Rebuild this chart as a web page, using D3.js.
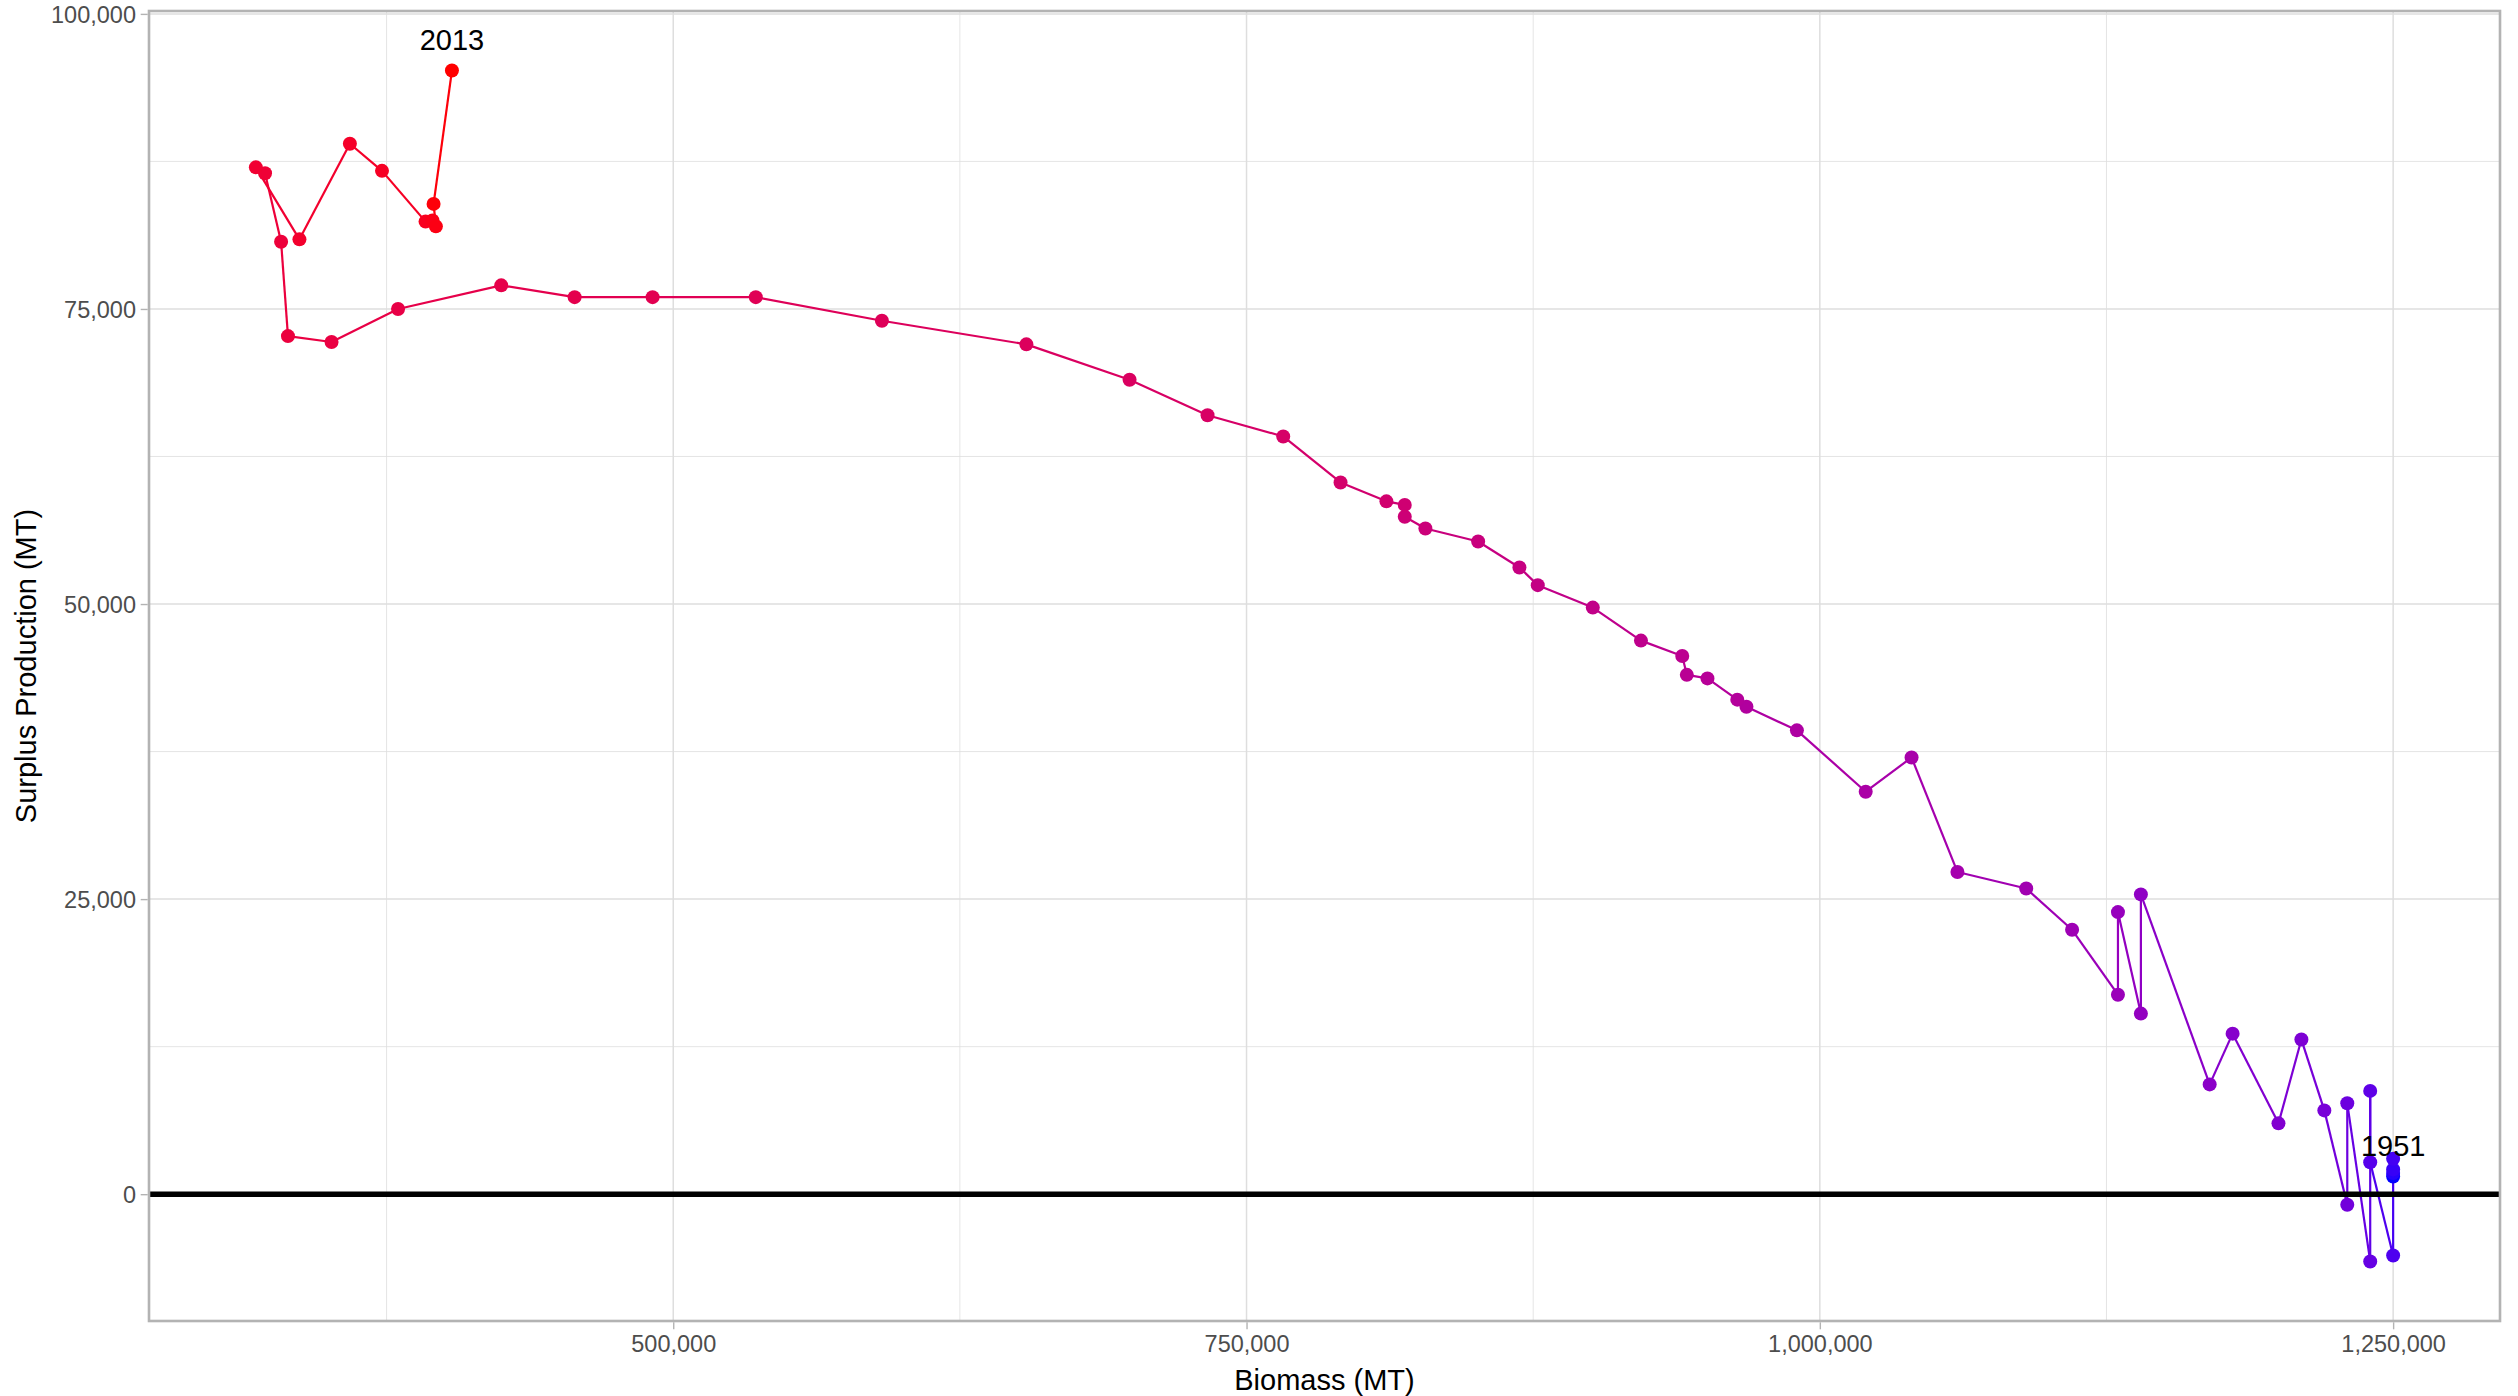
<!DOCTYPE html>
<html>
<head>
  <meta charset="utf-8" />
  <title>Surplus Production vs Biomass</title>
  <style type="text/css">
    body {
      margin: 0;
      background: #ffffff;
      font-family: 'Liberation Sans', Arial, Helvetica, sans-serif;
    }
    .tick text {
      fill: #4d4d4d;
      font-size: 23.5px;
    }
    .tick line {
      stroke: #b3b3b3;
      stroke-width: 1.4px;
    }
  </style>
</head>
<body>

  <div id="chart"></div>

  <script src="https://d3js.org/d3.v7.min.js"></script>
  <script>

  // Years, biomass (MT) and surplus production (MT)
  var years = [1951, 1952, 1953, 1954, 1955, 1956, 1957, 1958, 1959, 1960,
               1961, 1962, 1963, 1964, 1965, 1966, 1967, 1968, 1969, 1970,
               1971, 1972, 1973, 1974, 1975, 1976, 1977, 1978, 1979, 1980,
               1981, 1982, 1983, 1984, 1985, 1986, 1987, 1988, 1989, 1990,
               1991, 1992, 1993, 1994, 1995, 1996, 1997, 1998, 1999, 2000,
               2001, 2002, 2003, 2004, 2005, 2006, 2007, 2008, 2009, 2010,
               2011, 2012, 2013];

  var biomass = [1250000, 1250000, 1250000, 1250000, 1250000, 1240000, 1240000, 1240000, 1230000, 1230000,
                 1220000, 1210000, 1200000, 1180000, 1170000, 1140000, 1140000, 1130000, 1130000, 1110000,
                 1090000, 1060000, 1040000, 1020000, 990000, 968000, 964000, 951000, 942000, 940000,
                 922000, 901000, 877000, 869000, 851000, 828000, 819000, 819000, 811000, 791000,
                 766000, 733000, 699000, 654000, 591000, 536000, 491000, 457000, 425000, 380000,
                 351000, 332000, 329000, 322000, 318000, 337000, 359000, 373000, 392000, 395000,
                 396500, 395500, 403500];

  var surplus = [1500, 1800, 2100, 3000, -5200, 2700, 8750, -5700, 7700, -900,
                 7100, 13100, 6000, 13600, 9300, 25400, 15300, 23900, 16900, 22400,
                 25900, 27300, 37000, 34100, 39300, 41300, 41900, 43700, 44000, 45600,
                 46900, 49700, 51600, 53100, 55300, 56400, 57400, 58400, 58700, 60300,
                 64200, 66000, 69000, 72000, 74000, 76000, 76000, 76000, 77000, 75000,
                 72200, 72700, 80700, 86500, 87000, 80900, 89000, 86700, 82400, 82500,
                 82000, 83900, 95200];

  var xTicks = [500000, 750000, 1000000, 1250000];
  var yTicks = [0, 25000, 50000, 75000, 100000];
  var labelYears = [1951, 2013];

  var data = years.map(function (yr, i) {
    return {year: yr, b: biomass[i], sp: surplus[i]};
  });

  var width = 2518, height = 1396;
  var margin = {top: 11, right: 18, bottom: 75, left: 149};
  var w = width - margin.left - margin.right;
  var h = height - margin.top - margin.bottom;

  // ggplot style 5% expansion of the data range
  function expand(ext) {
    var pad = (ext[1] - ext[0]) * 0.05;
    return [ext[0] - pad, ext[1] + pad];
  }

  var x = d3.scaleLinear().domain(expand(d3.extent(biomass))).range([0, w]);
  var y = d3.scaleLinear().domain(expand(d3.extent(surplus))).range([h, 0]);

  var color = d3.scaleLinear()
    .domain([d3.min(years), d3.max(years)])
    .range(['blue', 'red'])
    .interpolate(d3.interpolateLab);

  var svg = d3.select('#chart').append('svg')
    .attr('width', width)
    .attr('height', height);

  var g = svg.append('g')
    .attr('transform', 'translate(' + margin.left + ',' + margin.top + ')');

  // minor breaks halfway between the major ones
  function minors(ticks, domain) {
    var step = ticks[1] - ticks[0], out = [];
    for (var i = -1; i < ticks.length; i++) {
      var v = ticks[0] + step * i + step / 2;
      if (v > domain[0] && v < domain[1]) out.push(v);
    }
    return out;
  }

  // grid
  g.selectAll('.xminor').data(minors(xTicks, x.domain())).enter().append('line')
    .attr('x1', function (d) { return x(d); }).attr('x2', function (d) { return x(d); })
    .attr('y1', 0).attr('y2', h)
    .attr('stroke', '#dedede').attr('stroke-width', 0.8);
  g.selectAll('.yminor').data(minors(yTicks, y.domain())).enter().append('line')
    .attr('y1', function (d) { return y(d); }).attr('y2', function (d) { return y(d); })
    .attr('x1', 0).attr('x2', w)
    .attr('stroke', '#dedede').attr('stroke-width', 0.8);
  g.selectAll('.xmajor').data(xTicks).enter().append('line')
    .attr('x1', function (d) { return x(d); }).attr('x2', function (d) { return x(d); })
    .attr('y1', 0).attr('y2', h)
    .attr('stroke', '#dedede').attr('stroke-width', 1.5);
  g.selectAll('.ymajor').data(yTicks).enter().append('line')
    .attr('y1', function (d) { return y(d); }).attr('y2', function (d) { return y(d); })
    .attr('x1', 0).attr('x2', w)
    .attr('stroke', '#dedede').attr('stroke-width', 1.5);

  // path, one segment per year, coloured by its starting year
  g.selectAll('.seg').data(data.slice(0, -1)).enter().append('line')
    .attr('x1', function (d) { return x(d.b); })
    .attr('y1', function (d) { return y(d.sp); })
    .attr('x2', function (d, i) { return x(data[i + 1].b); })
    .attr('y2', function (d, i) { return y(data[i + 1].sp); })
    .attr('stroke', function (d) { return color(d.year); })
    .attr('stroke-width', 2.2);

  g.selectAll('circle').data(data).enter().append('circle')
    .attr('cx', function (d) { return x(d.b); })
    .attr('cy', function (d) { return y(d.sp); })
    .attr('r', 7)
    .attr('fill', function (d) { return color(d.year); });

  // zero line
  g.append('line')
    .attr('x1', 0).attr('x2', w)
    .attr('y1', y(0)).attr('y2', y(0))
    .attr('stroke', '#000000').attr('stroke-width', 5.6);

  // first and last year labels
  g.selectAll('.yrlabel').data(data.filter(function (d) { return labelYears.indexOf(d.year) >= 0; }))
    .enter().append('text')
    .attr('x', function (d) { return x(d.b); })
    .attr('y', function (d) { return y(d.sp) - 20.5; })
    .attr('text-anchor', 'middle')
    .attr('font-size', '29px')
    .attr('fill', '#000000')
    .text(function (d) { return d.year; });

  // panel border
  g.append('rect')
    .attr('x', 0).attr('y', 0).attr('width', w).attr('height', h)
    .attr('fill', 'none').attr('stroke', '#b3b3b3').attr('stroke-width', 2.6);

  // axes
  var xAxis = g.append('g')
    .attr('transform', 'translate(0,' + h + ')')
    .call(d3.axisBottom(x).tickValues(xTicks).tickFormat(d3.format(',')).tickSize(7).tickPadding(7));
  xAxis.select('.domain').remove();
  xAxis.selectAll('.tick line').attr('transform', 'translate(0,1.3)');

  var yAxis = g.append('g')
    .call(d3.axisLeft(y).tickValues(yTicks).tickFormat(d3.format(',')).tickSize(7).tickPadding(6));
  yAxis.select('.domain').remove();
  yAxis.selectAll('.tick line').attr('transform', 'translate(-1.3,0)');
  yAxis.selectAll('.tick text').attr('dy', '0.35em');

  svg.selectAll('.tick text').attr('font-family', null).attr('font-size', null);

  // axis titles
  svg.append('text')
    .attr('x', margin.left + w / 2)
    .attr('y', 1390)
    .attr('text-anchor', 'middle')
    .attr('font-size', '29px')
    .attr('fill', '#000000')
    .text('Biomass (MT)');

  svg.append('text')
    .attr('transform', 'translate(36,' + (margin.top + h / 2) + ') rotate(-90)')
    .attr('text-anchor', 'middle')
    .attr('font-size', '29px')
    .attr('fill', '#000000')
    .text('Surplus Production (MT)');

  </script>
</body>
</html>
